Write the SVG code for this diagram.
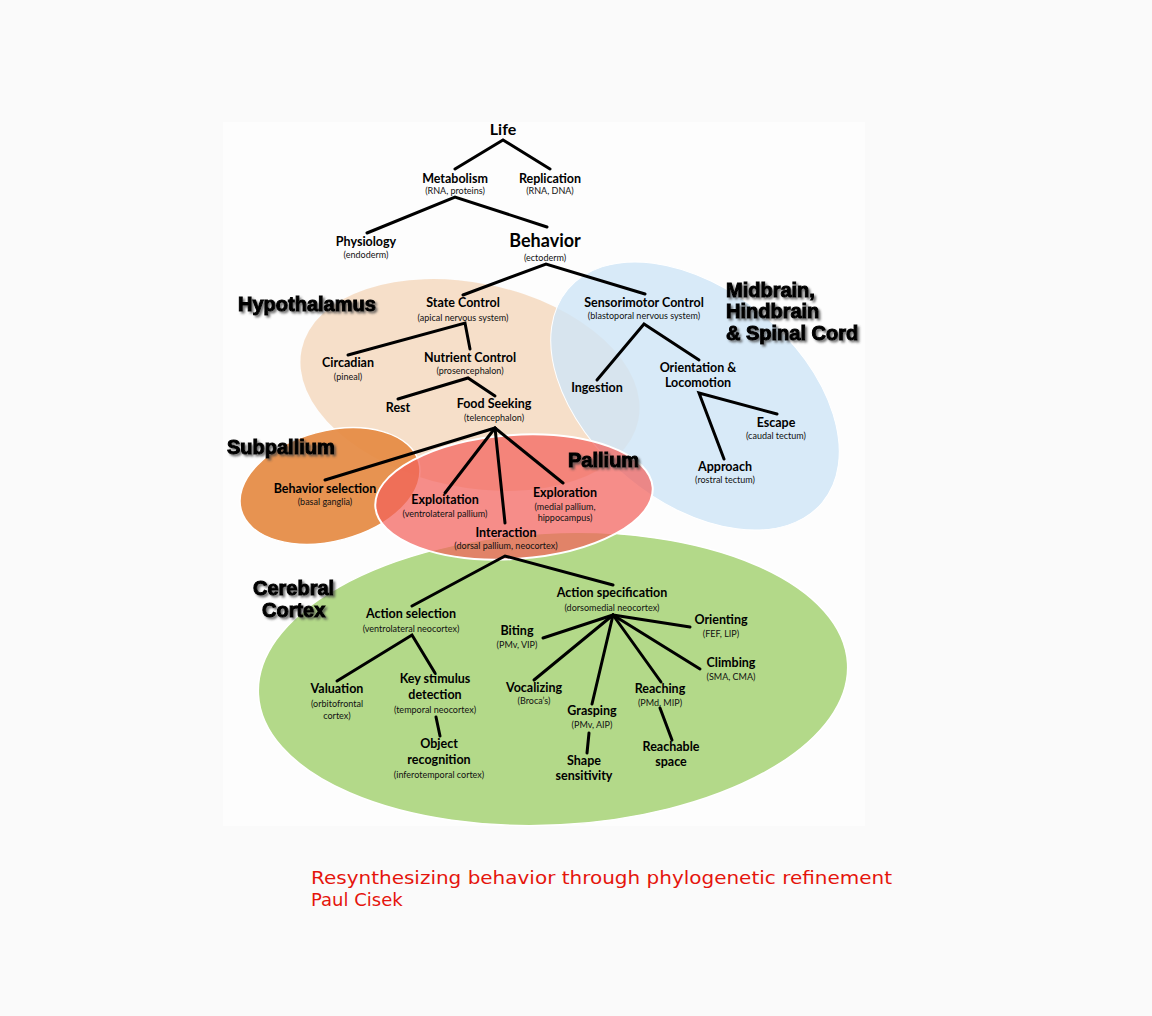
<svg xmlns="http://www.w3.org/2000/svg" width="1152" height="1016" viewBox="0 0 1152 1016">
<defs>
<filter id="sh" x="-10%" y="-40%" width="130%" height="200%">
<feDropShadow dx="2" dy="2" stdDeviation="1.3" flood-color="#444" flood-opacity="0.75"/>
</filter>
</defs>
<style>
.t{font-family:Lato,"Open Sans",sans-serif;font-weight:bold;font-size:12.5px;fill:#000;text-anchor:middle}
.s{font-family:Lato,"Open Sans",sans-serif;font-size:9px;fill:#111;text-anchor:middle}
.r{font-family:"Liberation Sans",Arial,sans-serif;font-weight:bold;font-size:20px;fill:#000;stroke:#000;stroke-width:1;filter:url(#sh)}
.c{stroke:#000;stroke-width:3;fill:none;stroke-linecap:round;stroke-linejoin:miter}
.cap{font-family:"DejaVu Sans",Verdana,sans-serif;font-size:18px;fill:#e5140c}
</style>
<rect x="0" y="0" width="1152" height="1016" fill="#fafafa"/>
<rect x="223" y="122" width="642" height="704" fill="#fdfdfd"/>

<g id="regions">
<ellipse id="hypothalamus-area" cx="470" cy="385" rx="172" ry="102" transform="rotate(12 470 385)" fill="#f5d9c0" fill-opacity="0.85"/>
<ellipse id="midbrain-area" cx="695" cy="396" rx="166" ry="106" transform="rotate(40 695 396)" fill="#cfe5f7" fill-opacity="0.82" stroke="#fff" stroke-width="1"/>
<ellipse id="subpallium-area" cx="330" cy="486" rx="92" ry="55" transform="rotate(-15 330 486)" fill="#e58a42" fill-opacity="0.92" stroke="#fff" stroke-width="1.5"/>
<ellipse id="cortex-area" cx="553" cy="679" rx="295" ry="146" transform="rotate(-3 553 679)" fill="#b3d989" stroke="#fff" stroke-width="1.5"/>
<ellipse id="pallium-area" cx="514" cy="497" rx="139" ry="62" transform="rotate(-4 514 497)" fill="#f3615c" fill-opacity="0.72" stroke="#fff" stroke-width="2"/>
</g>

<g id="region-labels">
<text class="r" x="238" y="311">Hypothalamus</text>
<text class="r" x="227" y="454">Subpallium</text>
<text class="r" x="568" y="467">Pallium</text>
<text class="r" x="726" y="297">Midbrain,</text>
<text class="r" x="726" y="318">Hindbrain</text>
<text class="r" x="726" y="340">&amp; Spinal Cord</text>
<text class="r" x="253" y="595">Cerebral</text>
<text class="r" x="262" y="617">Cortex</text>
</g>

<g id="connectors">
<polyline class="c" points="455,169 503,140 550,169"/>
<polyline class="c" points="367,233 455,197 547,227"/>
<polyline class="c" points="463,295 546,264 645,294"/>
<polyline class="c" points="348,355 465,323 470,349"/>
<polyline class="c" points="398,399 468,378 495,396"/>
<line class="c" x1="495" y1="428" x2="325" y2="480"/>
<line class="c" x1="495" y1="428" x2="445" y2="493"/>
<line class="c" x1="495" y1="428" x2="505" y2="523"/>
<line class="c" x1="495" y1="428" x2="563" y2="483"/>
<polyline class="c" points="597,380 644,324 699,360"/>
<polyline class="c" points="724,459 699,393 777,414"/>
<polyline class="c" points="412,606 505,556 613,585"/>
<polyline class="c" points="337,681 412,635 435,673"/>
<line class="c" x1="436" y1="717" x2="440" y2="736"/>
<line class="c" x1="613" y1="615" x2="690" y2="627"/>
<line class="c" x1="613" y1="615" x2="543" y2="638"/>
<line class="c" x1="613" y1="615" x2="534" y2="680"/>
<line class="c" x1="613" y1="615" x2="592" y2="704"/>
<line class="c" x1="613" y1="615" x2="661" y2="682"/>
<line class="c" x1="613" y1="615" x2="700" y2="669"/>
<line class="c" x1="589" y1="733" x2="587" y2="753"/>
<line class="c" x1="660" y1="708" x2="672" y2="740"/>
</g>

<g id="life"><text class="t" x="503" y="135" style="font-size:16px">Life</text></g>
<g id="metabolism"><text class="t" x="455" y="183">Metabolism</text><text class="s" x="455" y="194">(RNA, proteins)</text></g>
<g id="replication"><text class="t" x="550" y="183">Replication</text><text class="s" x="550" y="194">(RNA, DNA)</text></g>
<g id="physiology"><text class="t" x="366" y="246">Physiology</text><text class="s" x="366" y="258">(endoderm)</text></g>
<g id="behavior"><text class="t" x="545" y="247" style="font-size:18px">Behavior</text><text class="s" x="545" y="261">(ectoderm)</text></g>
<g id="state-control"><text class="t" x="463" y="307">State Control</text><text class="s" x="463" y="321">(apical nervous system)</text></g>
<g id="circadian"><text class="t" x="348" y="367">Circadian</text><text class="s" x="348" y="380">(pineal)</text></g>
<g id="nutrient-control"><text class="t" x="470" y="362">Nutrient Control</text><text class="s" x="470" y="374">(prosencephalon)</text></g>
<g id="rest"><text class="t" x="398" y="412">Rest</text></g>
<g id="food-seeking"><text class="t" x="494" y="408">Food Seeking</text><text class="s" x="494" y="421">(telencephalon)</text></g>
<g id="behavior-selection"><text class="t" x="325" y="493">Behavior selection</text><text class="s" x="325" y="505">(basal ganglia)</text></g>
<g id="exploitation"><text class="t" x="445" y="504">Exploitation</text><text class="s" x="445" y="517">(ventrolateral pallium)</text></g>
<g id="exploration"><text class="t" x="565" y="497">Exploration</text><text class="s" x="565" y="510">(medial pallium,</text><text class="s" x="565" y="521">hippocampus)</text></g>
<g id="interaction"><text class="t" x="506" y="537">Interaction</text><text class="s" x="506" y="549">(dorsal pallium, neocortex)</text></g>
<g id="sensorimotor-control"><text class="t" x="644" y="307">Sensorimotor Control</text><text class="s" x="644" y="319">(blastoporal nervous system)</text></g>
<g id="ingestion"><text class="t" x="597" y="392">Ingestion</text></g>
<g id="orientation"><text class="t" x="698" y="372">Orientation &amp;</text><text class="t" x="698" y="387">Locomotion</text></g>
<g id="escape"><text class="t" x="776" y="427">Escape</text><text class="s" x="776" y="439">(caudal tectum)</text></g>
<g id="approach"><text class="t" x="725" y="471">Approach</text><text class="s" x="725" y="483">(rostral tectum)</text></g>
<g id="action-selection"><text class="t" x="411" y="618">Action selection</text><text class="s" x="411" y="632">(ventrolateral neocortex)</text></g>
<g id="action-specification"><text class="t" x="612" y="597">Action specification</text><text class="s" x="612" y="611">(dorsomedial neocortex)</text></g>
<g id="valuation"><text class="t" x="337" y="693">Valuation</text><text class="s" x="337" y="707">(orbitofrontal</text><text class="s" x="337" y="719">cortex)</text></g>
<g id="key-stimulus"><text class="t" x="435" y="683">Key stimulus</text><text class="t" x="435" y="699">detection</text><text class="s" x="435" y="713">(temporal neocortex)</text></g>
<g id="object-recognition"><text class="t" x="439" y="748">Object</text><text class="t" x="439" y="764">recognition</text><text class="s" x="439" y="778">(inferotemporal cortex)</text></g>
<g id="biting"><text class="t" x="517" y="635">Biting</text><text class="s" x="517" y="648">(PMv, VIP)</text></g>
<g id="orienting"><text class="t" x="721" y="624">Orienting</text><text class="s" x="721" y="637">(FEF, LIP)</text></g>
<g id="climbing"><text class="t" x="731" y="667">Climbing</text><text class="s" x="731" y="680">(SMA, CMA)</text></g>
<g id="vocalizing"><text class="t" x="534" y="692">Vocalizing</text><text class="s" x="534" y="704">(Broca’s)</text></g>
<g id="grasping"><text class="t" x="592" y="715">Grasping</text><text class="s" x="592" y="728">(PMv, AIP)</text></g>
<g id="reaching"><text class="t" x="660" y="693">Reaching</text><text class="s" x="660" y="706">(PMd, MIP)</text></g>
<g id="shape-sensitivity"><text class="t" x="584" y="765">Shape</text><text class="t" x="584" y="780">sensitivity</text></g>
<g id="reachable-space"><text class="t" x="671" y="751">Reachable</text><text class="t" x="671" y="766">space</text></g>

<g id="caption">
<text class="cap" x="311" y="884" textLength="581" lengthAdjust="spacingAndGlyphs">Resynthesizing behavior through phylogenetic refinement</text>
<text class="cap" x="311" y="906">Paul Cisek</text>
</g>
</svg>
